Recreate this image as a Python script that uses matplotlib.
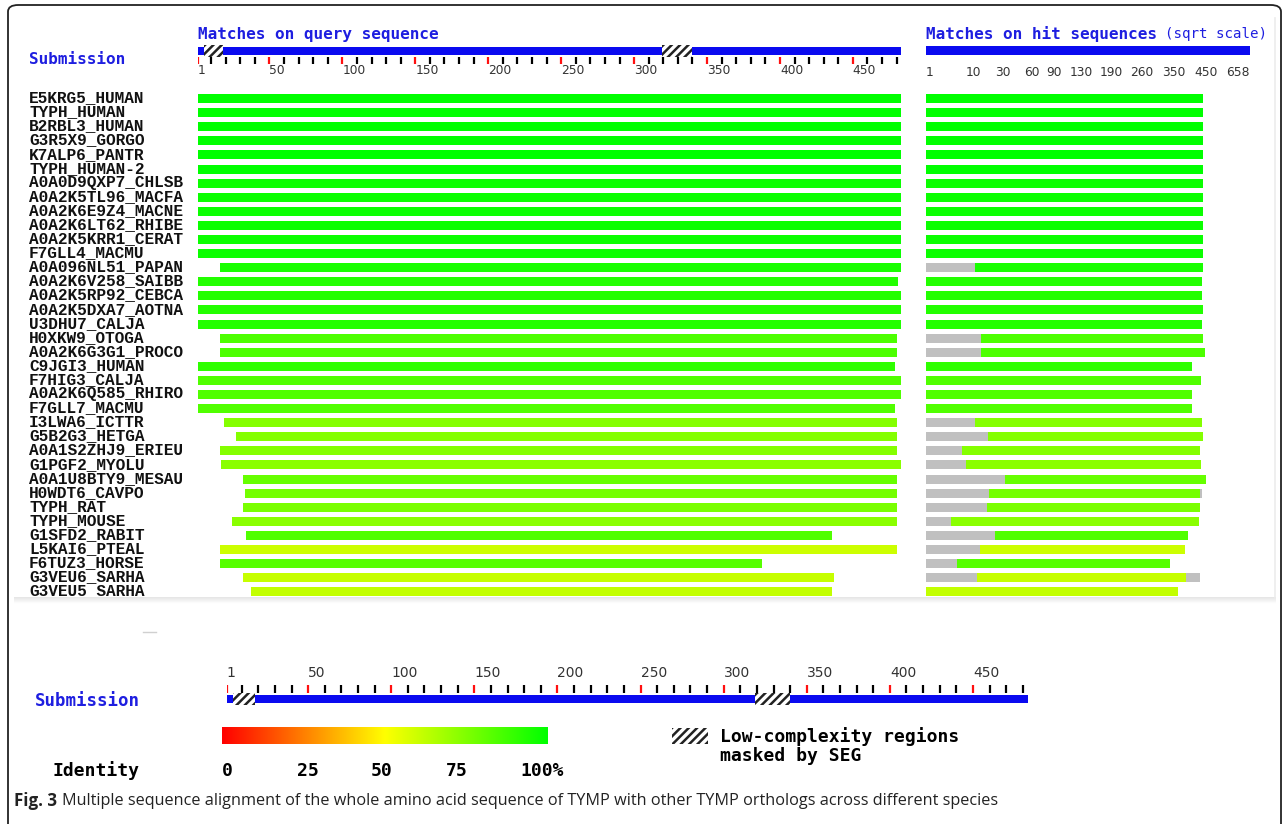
import numpy as np
import matplotlib
matplotlib.use("Agg")
import matplotlib.pyplot as plt
from matplotlib.colors import LinearSegmentedColormap
from matplotlib.patches import FancyBboxPatch
from matplotlib.transforms import blended_transform_factory

# ---- data ----
labels = ["E5KRG5_HUMAN", "TYPH_HUMAN", "B2RBL3_HUMAN", "G3R5X9_GORGO", "K7ALP6_PANTR",
          "TYPH_HUMAN-2", "A0A0D9QXP7_CHLSB", "A0A2K5TL96_MACFA", "A0A2K6E9Z4_MACNE",
          "A0A2K6LT62_RHIBE", "A0A2K5KRR1_CERAT", "F7GLL4_MACMU", "A0A096NL51_PAPAN",
          "A0A2K6V258_SAIBB", "A0A2K5RP92_CEBCA", "A0A2K5DXA7_AOTNA", "U3DHU7_CALJA",
          "H0XKW9_OTOGA", "A0A2K6G3G1_PROCO", "C9JGI3_HUMAN", "F7HIG3_CALJA",
          "A0A2K6Q585_RHIRO", "F7GLL7_MACMU", "I3LWA6_ICTTR", "G5B2G3_HETGA",
          "A0A1S2ZHJ9_ERIEU", "G1PGF2_MYOLU", "A0A1U8BTY9_MESAU", "H0WDT6_CAVPO",
          "TYPH_RAT", "TYPH_MOUSE", "G1SFD2_RABIT", "L5KAI6_PTEAL", "F6TUZ3_HORSE",
          "G3VEU6_SARHA", "G3VEU5_SARHA"]

# alignment on the query (residues)
q_start = [1] * 12 + [16, 1, 1, 1, 1, 16, 16, 1, 1, 1, 1, 19, 27, 16, 17, 32, 33, 32,
                      24, 34, 16, 16, 32, 37]
q_end = [482] * 12 + [482, 480, 482, 482, 482, 479, 479, 478, 482, 482, 478, 479, 479,
                      479, 482, 479, 479, 479, 479, 435, 479, 387, 436, 435]

# alignment on the hit sequences
hit_len = [482] * 12 + [482, 479, 479, 482, 479, 482, 489, 444, 474, 444, 444, 477, 482,
                        471, 474, 491, 478, 471, 468, 431, 421, 374, 469, 398]
hit_start = [1] * 12 + [16, 1, 1, 1, 1, 20, 20, 1, 1, 1, 1, 16, 25, 9, 11, 40, 26, 24,
                        5, 31, 19, 7, 17, 1]
hit_end = [482] * 12 + [482, 479, 479, 482, 479, 482, 489, 444, 474, 444, 444, 477, 482,
                        471, 474, 491, 471, 471, 468, 431, 421, 374, 424, 398]

# percent identity per hit
identity = [100] * 6 + [98] * 6 + [95, 93, 93, 93, 93, 85, 85, 91, 84, 84, 84, 74, 74,
                                   74, 73, 80, 77, 76, 73, 84, 60, 83, 61, 62]

query_len = 482
lcr = [(5, 17), (319, 339)]   # low-complexity regions (SEG)
query_ticks = [1] + list(range(10, 490, 10))
query_tick_labels = [1, 50, 100, 150, 200, 250, 300, 350, 400, 450]
hit_max = 658
hit_ticks = [1, 10, 30, 60, 90, 130, 190, 260, 350, 450, 658]
ident_ticks = [0, 25, 50, 75, 100]

# ---- figure ----
W, H = 1287, 824
fig = plt.figure(figsize=(W / 100, H / 100), dpi=100)
fig.patch.set_facecolor("white")

BLUE = "#1e1ee0"
BAR_BLUE = "#0a0af0"
GRAY = "#c0c0c0"
MONO = "DejaVu Sans Mono"
plt.rcParams["hatch.linewidth"] = 1.8

cmap = LinearSegmentedColormap.from_list("ident", ["#ff0000", "#ffff00", "#00ff00"])
colors = [cmap(v / 100) for v in identity]


def px_axes(x0, y0, x1, y1):
    ax = fig.add_axes([x0 / W, 1 - y1 / H, (x1 - x0) / W, (y1 - y0) / H])
    ax.set_axis_off()
    ax.patch.set_visible(False)
    return ax


def ruler(ax, bar_y, tick_y0, tick_y1, lab_y, size):
    ax.barh(bar_y, query_len, left=1, height=8.5, color=BAR_BLUE)
    for a, b in lcr:
        ax.barh(bar_y, b - a + 1, left=a, height=12.5, color="white",
                hatch="////", edgecolor="#222222", linewidth=0)
    red = [t for t in query_ticks if t == 1 or t % 50 == 0]
    blk = [t for t in query_ticks if t not in red]
    ax.vlines(blk, tick_y0, tick_y1, color="black", lw=1.6)
    ax.vlines(red, tick_y0, tick_y1, color="#ff1010", lw=1.6)
    for t in query_tick_labels:
        ax.text(t, lab_y, str(t), ha="left", va="center", fontsize=size,
                color="#333333", family="DejaVu Sans")


n = len(labels)
rows = np.arange(n)
row0, dy = 98.6, 14.09
top_px, bot_px = 88, 598

# query ruler (top)
ax_qr = px_axes(198, 38, 901, 82)
ax_qr.set_xlim(1, query_len + 1)
ax_qr.set_ylim(82, 38)
ruler(ax_qr, 51, 57, 63.5, 71, 8.8)

# hit ruler (top right), sqrt scale
ax_hr = px_axes(926, 38, 1250, 82)
ax_hr.set_xscale("function", functions=(np.sqrt, np.square))
ax_hr.set_xlim(0, hit_max)
ax_hr.set_ylim(82, 38)
ax_hr.barh(50.5, hit_max, left=0, height=9, color=BAR_BLUE)
for v in hit_ticks:
    last = v == hit_ticks[-1]
    ax_hr.text(0 if v == 1 else v, 72.5, str(v), ha="right" if last else "left",
               va="center", fontsize=8.8, color="#333333", family="DejaVu Sans")

# alignment rows on the query
ax_q = px_axes(198, top_px, 901, bot_px)
ax_q.set_xlim(1, query_len + 1)
ax_q.set_ylim((bot_px - row0) / dy, (top_px - row0) / dy)
ax_q.barh(rows, np.array(q_end) - np.array(q_start) + 1, left=q_start,
          height=0.64, color=colors)

# alignment rows on the hits
ax_h = px_axes(926, top_px, 1250, bot_px)
ax_h.set_xscale("function", functions=(np.sqrt, np.square))
ax_h.set_xlim(0, hit_max)
ax_h.set_ylim((bot_px - row0) / dy, (top_px - row0) / dy)
ax_h.barh(rows, hit_len, left=0, height=0.64, color=GRAY)
ax_h.barh(rows, np.array(hit_end) - np.array(hit_start) + 1,
          left=np.array(hit_start) - 1, height=0.64, color=colors)

# row labels
tr = blended_transform_factory(fig.transFigure, ax_q.transData)
for i, lab in enumerate(labels):
    ax_q.text(29 / W, i + 0.26, lab, transform=tr, ha="left", va="baseline",
              fontsize=11.6, fontweight="bold", family="Liberation Mono",
              color="#111111", clip_on=False)

# headings
fig.text(198 / W, 1 - 34 / H, "Matches on query sequence", ha="left", va="center",
         fontsize=11.5, fontweight="bold", family=MONO, color=BLUE)
fig.text(29 / W, 1 - 60 / H, "Submission", ha="left", va="center",
         fontsize=11.5, fontweight="bold", family=MONO, color=BLUE)
fig.text(926 / W, 1 - 34 / H, "Matches on hit sequences", ha="left", va="center",
         fontsize=11.5, fontweight="bold", family=MONO, color=BLUE)
fig.text(1165 / W, 1 - 34 / H, "(sqrt scale)", ha="left", va="center",
         fontsize=10.2, family=MONO, color=BLUE)

# soft edges of the screenshot panel
ax_fade = px_axes(14, 597, 1276, 604)
ax_fade.imshow(np.linspace(0.9, 1.0, 10)[:, None], cmap="gray", vmin=0, vmax=1,
               aspect="auto", extent=(0, 1, 0, 1))
ax_fade.set_xlim(0, 1)
ax_fade.set_ylim(0, 1)
fig.add_artist(plt.Line2D([1275 / W, 1275 / W], [1 - 18 / H, 1 - 598 / H],
                          color="#ececec", lw=1.2))
fig.add_artist(plt.Line2D([143 / W, 156 / W], [1 - 632 / H, 1 - 632 / H],
                          color="#d0d0d0", lw=1))

# bottom ruler
ax_b = px_axes(226.7, 660, 1027.8, 712)
ax_b.set_xlim(1, query_len + 1)
ax_b.set_ylim(712, 660)
ruler(ax_b, 699, 685, 693, 673, 10)
fig.text(35 / W, 1 - 701 / H, "Submission", ha="left", va="center",
         fontsize=12.5, fontweight="bold", family=MONO, color=BLUE)

# identity colour scale
ax_g = px_axes(222, 727, 548, 744)
ax_g.imshow(np.linspace(0, 100, 256)[None, :], cmap=cmap, vmin=0, vmax=100,
            aspect="auto", extent=(0, 100, 0, 1))
ax_g.set_xlim(0, 100)
ax_g.set_ylim(0, 1)
ax_gl = px_axes(222, 760, 520, 782)
ax_gl.set_xlim(0, 100)
ax_gl.set_ylim(0, 1)
for v in ident_ticks:
    ax_gl.text(v, 0.5, f"{v}%" if v == 100 else str(v), ha="left", va="center",
               fontsize=13, fontweight="bold", family=MONO, color="black")
fig.text(52 / W, 1 - 771 / H, "Identity", ha="left", va="center",
         fontsize=13, fontweight="bold", family=MONO, color="black")

# low complexity legend
ax_lg = px_axes(672, 728, 708, 744)
ax_lg.set_xlim(0, 1)
ax_lg.set_ylim(0, 1)
ax_lg.bar(0.5, 1, width=1, bottom=0, color="white", hatch="////",
          edgecolor="#222222", linewidth=0)
fig.text(720 / W, 1 - 737 / H, "Low-complexity regions", ha="left", va="center",
         fontsize=13, fontweight="bold", family=MONO, color="black")
fig.text(720 / W, 1 - 756 / H, "masked by SEG", ha="left", va="center",
         fontsize=13, fontweight="bold", family=MONO, color="black")

# caption and frame
fig.text(14 / W, 1 - 801 / H, "Fig. 3", ha="left", va="center", fontsize=12.2,
         fontweight="bold", family="Open Sans", color="#222222")
fig.text(62 / W, 1 - 801 / H,
         "Multiple sequence alignment of the whole amino acid sequence of TYMP "
         "with other TYMP orthologs across different species",
         ha="left", va="center", fontsize=11.7, family="Open Sans", color="#222222")
fig.add_artist(FancyBboxPatch((8 / W, -0.05), 1273 / W, 1.05 - 5 / H,
                              boxstyle="round,pad=0,rounding_size=0.008",
                              transform=fig.transFigure, facecolor="none",
                              edgecolor="#222222", lw=1.3))

fig.savefig("out.png", dpi=100)
